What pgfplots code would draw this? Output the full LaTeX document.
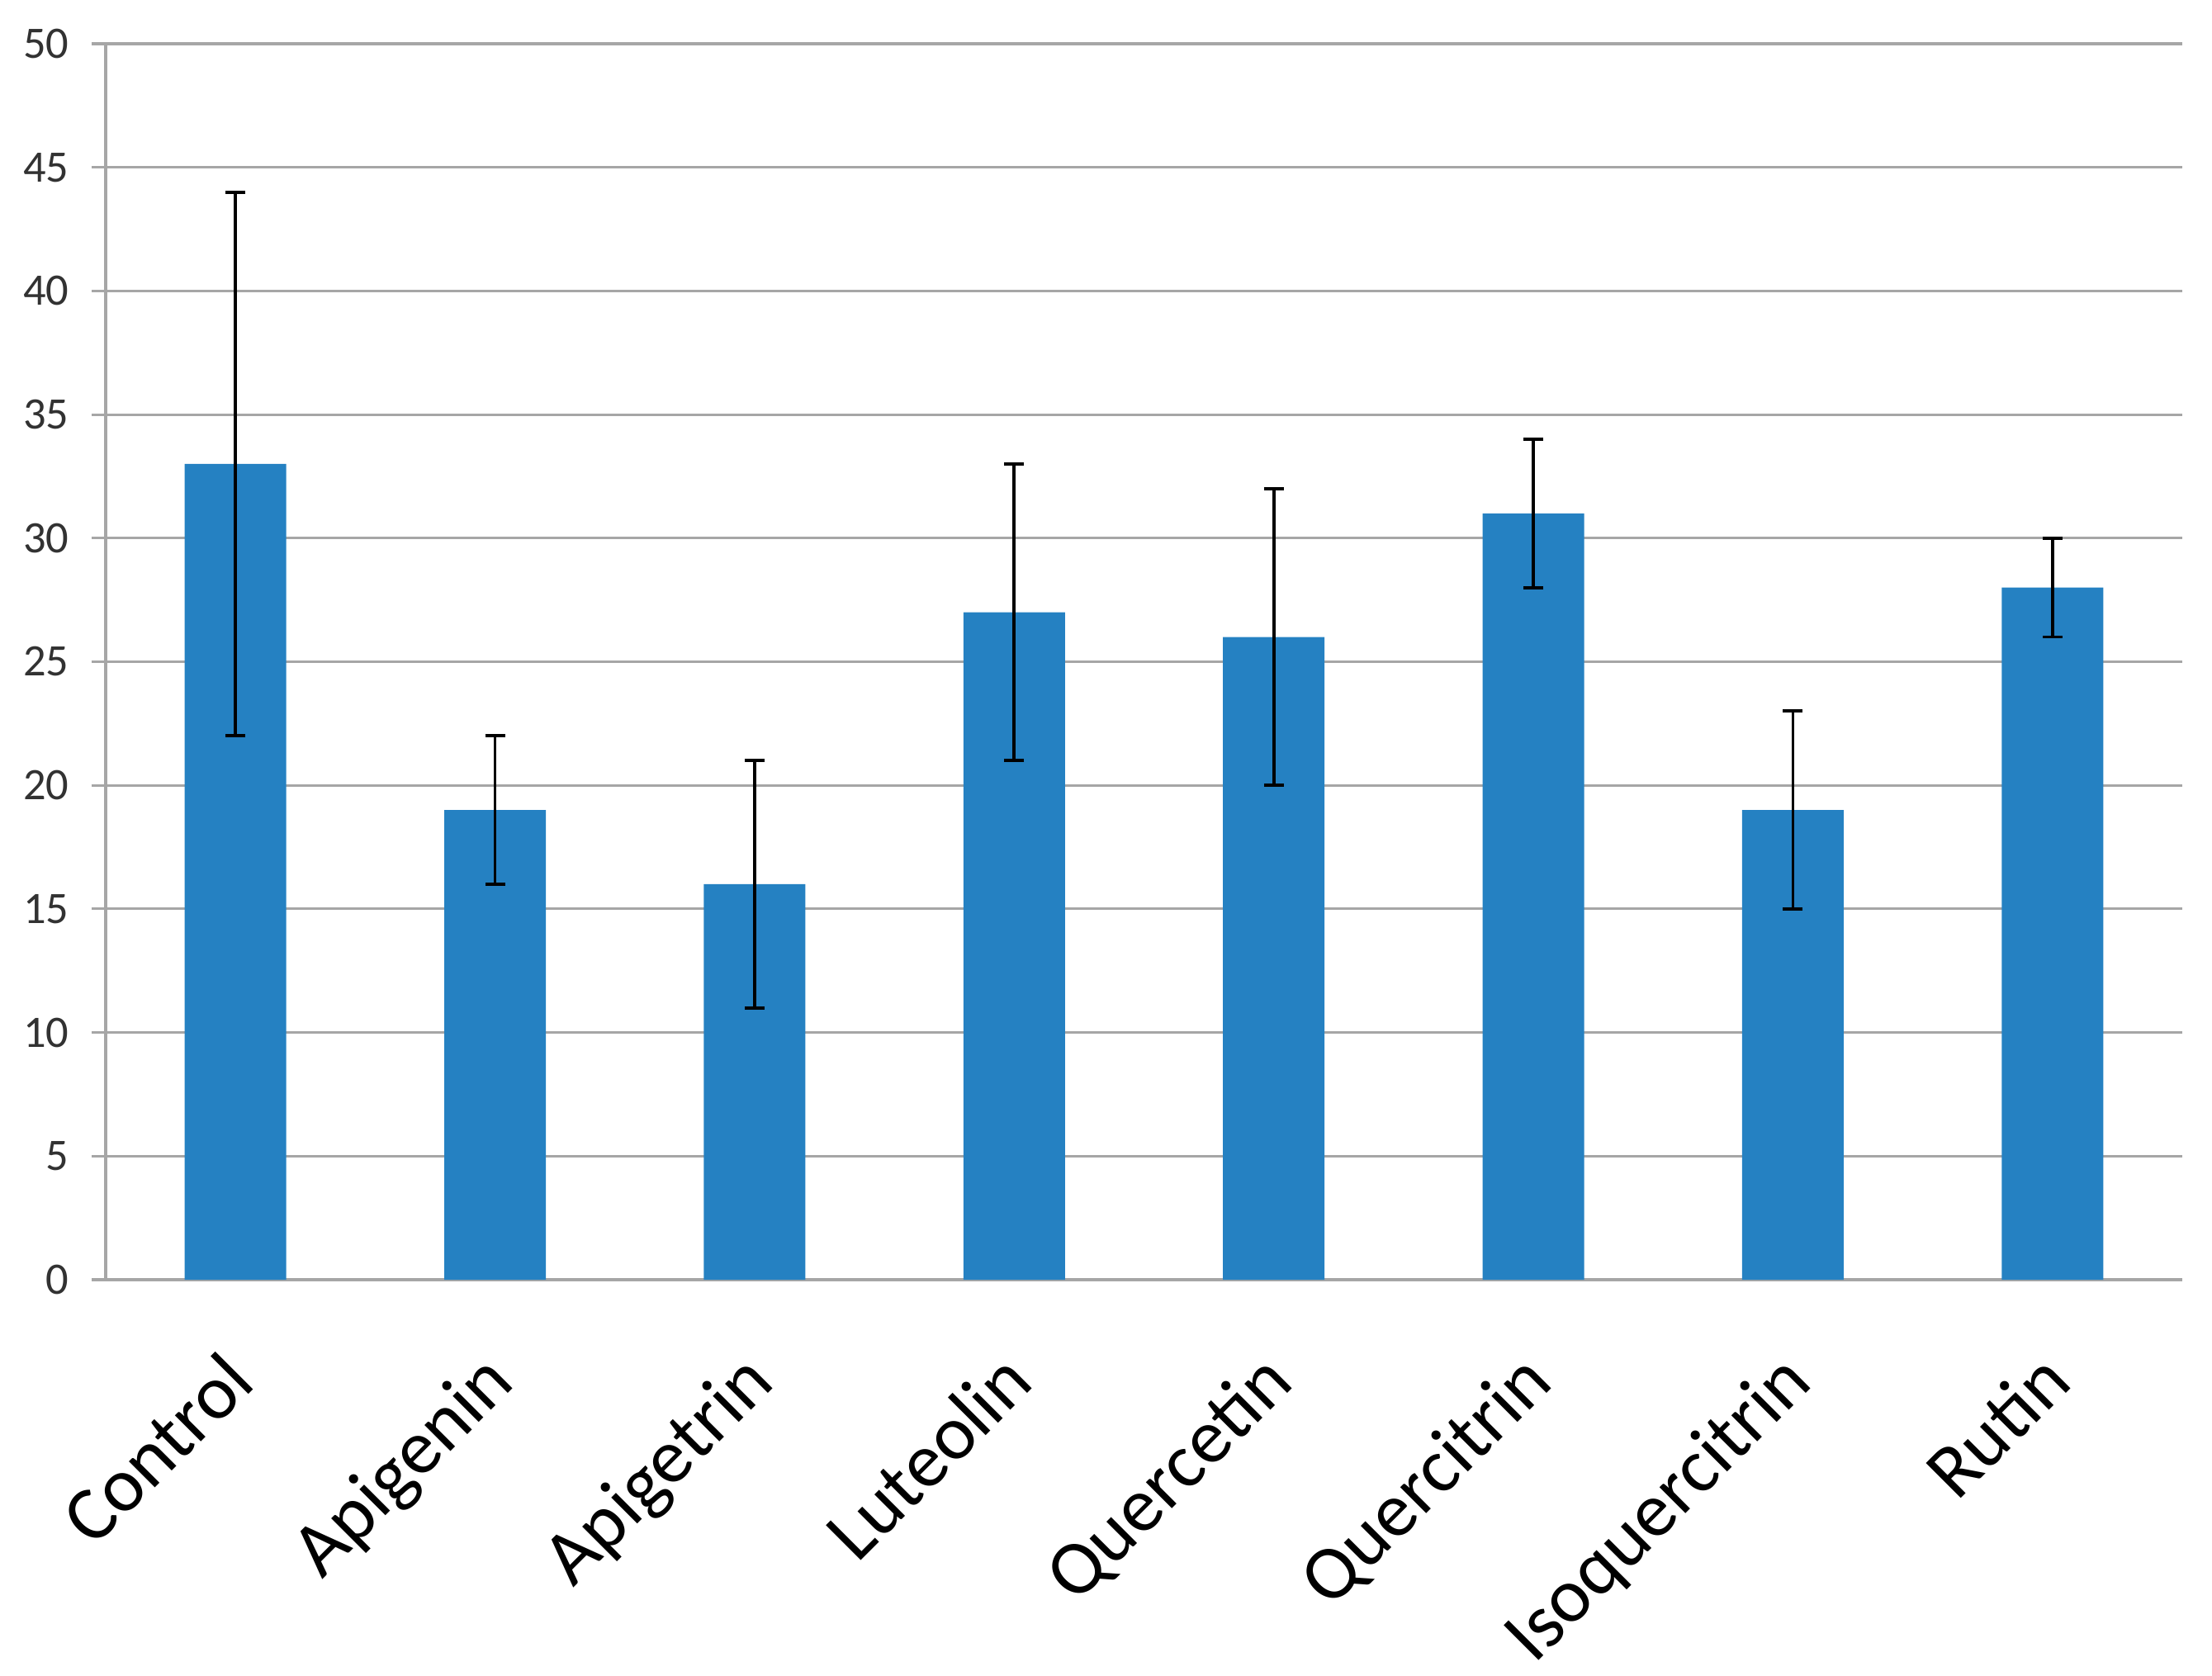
\documentclass[border=0pt]{standalone}
\usepackage{pgfplots}
\pgfplotsset{compat=1.18}
\usepackage{fontspec}
\setmainfont{Carlito}
\definecolor{barblue}{RGB}{37,129,194}
\definecolor{axgray}{RGB}{166,166,166}
\definecolor{ticktext}{RGB}{50,50,50}
\begin{document}
\begin{tikzpicture}
\begin{axis}[
  at={(0,0)}, anchor=south west,
  scale only axis,
  width=25.15cm, height=14.97cm,
  xmin=-0.5, xmax=7.5,
  ymin=0, ymax=50,
  ytick={0,5,...,50},
  xtick={0,...,7},
  xticklabels={Control,Apigenin,Apigetrin,Luteolin,Quercetin,Quercitrin,Isoquercitrin,Rutin},
  x tick style={draw=none},
  extra x ticks={-0.5,0.5,1.5,2.5,3.5,4.5,5.5,6.5,7.5},
  extra x tick labels={},
  extra x tick style={major tick length=0.22cm, tick style={draw=axgray, line width=0.9pt}, xmajorgrids=false},
  y tick style={draw=axgray, line width=0.9pt},
  major tick length=0.17cm,
  tick align=outside,
  axis x line*=bottom,
  axis y line*=left,
  axis line style={draw=axgray, line width=0.9pt, -},
  ymajorgrids,
  grid style={draw=axgray, line width=0.9pt},
  yticklabel style={font=\fontsize{15.5}{18}\selectfont, text=ticktext, xshift=-0.15cm},
  xticklabel style={font=\fontsize{26.5}{32}\selectfont, xshift=-0.195cm, yshift=-0.48cm, rotate=45, anchor=north east},
  /pgf/number format/assume math mode=true,
  clip=false,
]
\addplot[ybar, bar width=1.23cm, fill=barblue, draw=none,
  error bars/.cd, y dir=both, y explicit,
  error bar style={black, line width=1.1pt},
  error mark options={rotate=90, black, line width=1.1pt, mark size=0.12cm}]
  table[x=x, y=y, y error=e] {
x y e
0 33 11
1 19 3
2 16 5
3 27 6
4 26 6
5 31 3
6 19 4
7 28 2
};
\end{axis}
\pgfresetboundingbox
\useasboundingbox (-1.28,-4.79) rectangle (25.51,15.50);
\end{tikzpicture}
\end{document}
